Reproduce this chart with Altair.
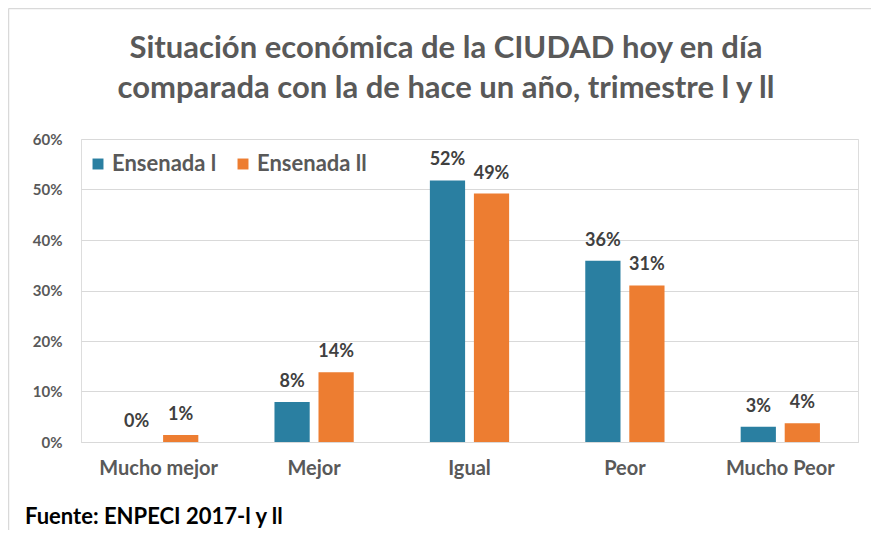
import altair as alt
import pandas as pd

categories = ["Mucho mejor", "Mejor", "Igual", "Peor", "Mucho Peor"]
series = ["Ensenada l", "Ensenada ll"]
values_1 = [0.0, 7.9, 51.8, 35.9, 3.0]
values_2 = [1.4, 13.8, 49.2, 31.0, 3.7]
labels_1 = ["0%", "8%", "52%", "36%", "3%"]
labels_2 = ["1%", "14%", "49%", "31%", "4%"]
colors = ["#2A7FA1", "#ED7D31"]
y_ticks = [0, 0.1, 0.2, 0.3, 0.4, 0.5, 0.6]
title_text = ["Situación económica de la CIUDAD hoy en día\ncomparada con la de hace un año, trimestre l y ll"]
footer_text = ["Fuente: ENPECI 2017-l y ll"]

rows = []
for s, vals, labs in [(series[0], values_1, labels_1), (series[1], values_2, labels_2)]:
    for c, v, l in zip(categories, vals, labs):
        rows.append({"cat": c, "series": s, "value": v / 100, "label": l})
df = pd.DataFrame(rows)

FONT = "Lato"

base = alt.Chart(df).encode(
    x=alt.X("cat:N", sort=categories,
            scale=alt.Scale(paddingInner=0.49, paddingOuter=0.245),
            axis=alt.Axis(title=None, labelAngle=0, ticks=False, domain=True,
                          domainColor="#d9d9d9", labelPadding=16,
                          labelFontSize=20, labelFont=FONT, labelFontWeight="bold",
                          labelColor="#595959")),
    xOffset=alt.XOffset("series:N", sort=series,
                        scale=alt.Scale(paddingInner=0.2, paddingOuter=0)),
    y=alt.Y("value:Q", scale=alt.Scale(domain=[0, 0.6], nice=False),
            axis=alt.Axis(title=None, format="%", values=y_ticks, ticks=False,
                          domain=False, gridColor="#d9d9d9", gridWidth=1,
                          labelPadding=19, labelFontSize=15, labelFont=FONT,
                          labelFontWeight="bold", labelColor="#595959")),
)

bars = base.mark_bar().encode(
    color=alt.Color("series:N", sort=series,
                    scale=alt.Scale(domain=series, range=colors),
                    legend=alt.Legend(title=None, orient="none", legendX=6, legendY=14,
                                      direction="horizontal", symbolType="square",
                                      symbolSize=120, symbolStrokeWidth=0,
                                      labelFontSize=22, labelFont=FONT,
                                      labelFontWeight="bold", labelColor="#595959",
                                      columnPadding=15, labelOffset=3))
)

text = base.mark_text(baseline="bottom", dy=-11, fontSize=18, font=FONT,
                      fontWeight="bold", color="#404040").encode(
    text="label:N"
)

title = alt.Chart(pd.DataFrame({"t": title_text})).mark_text(
    align="center", baseline="top", lineBreak="\n", lineHeight=40,
    fontSize=31, font=FONT, fontWeight="bold", color="#595959"
).encode(x=alt.value(365), y=alt.value(-105), text="t:N")

footer = alt.Chart(pd.DataFrame({"t": footer_text})).mark_text(
    align="left", baseline="middle", fontSize=22, font=FONT, fontWeight="bold",
    color="#000000"
).encode(x=alt.value(-56), y=alt.value(378), text="t:N")

border_top = alt.Chart(pd.DataFrame({"a": [0]})).mark_rule(color="#d9d9d9", strokeWidth=1.5).encode(
    x=alt.value(-72.5), x2=alt.value(790), y=alt.value(-130.5))
border_left = alt.Chart(pd.DataFrame({"a": [0]})).mark_rule(color="#d9d9d9", strokeWidth=1.5).encode(
    x=alt.value(-72.5), y=alt.value(-130.5), y2=alt.value(391))

chart = alt.layer(bars, text, title, footer, border_top, border_left).properties(
    width=777, height=303,
    autosize=alt.AutoSizeParams(type="none"),
    padding={"left": 73, "top": 131, "right": 13, "bottom": 88},
).configure_view(stroke=None).configure(background="white")

chart.save("out.html", embed_options={"renderer": "svg", "actions": False})
